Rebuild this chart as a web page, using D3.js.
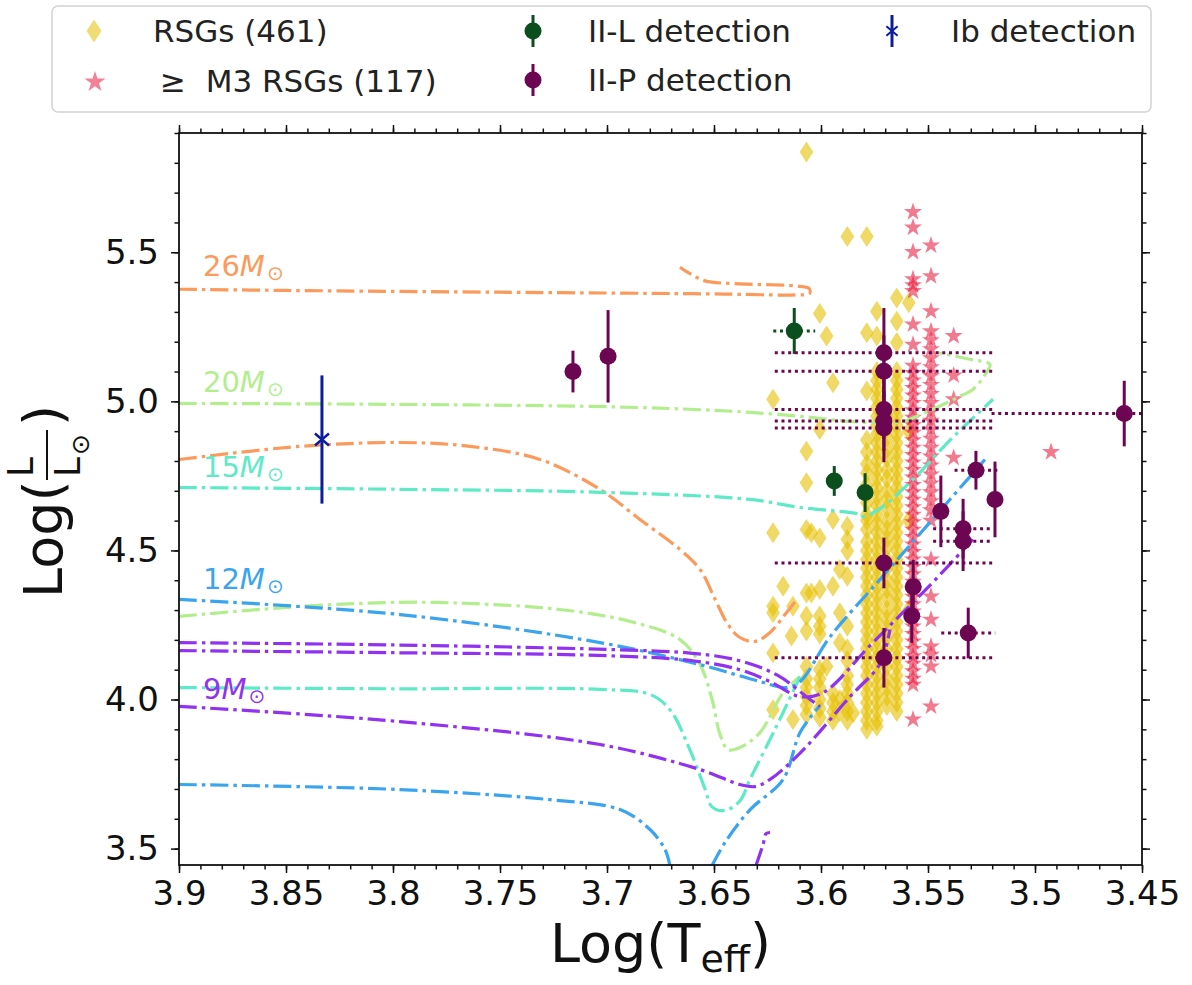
<!DOCTYPE html>
<html>
<head>
<meta charset="utf-8">
<script src="https://cdn.jsdelivr.net/npm/d3@7"></script>
<style>
  body { margin: 0; background: #fff; }
  svg text { font-family: "DejaVu Sans", sans-serif; }
</style>
</head>
<body>
<svg id="hrd"></svg>
<script>
// ticks
const xTicks = [3.9, 3.85, 3.8, 3.75, 3.7, 3.65, 3.6, 3.55, 3.5, 3.45];
const xTickLabels = ["3.9", "3.85", "3.8", "3.75", "3.7", "3.65", "3.6", "3.55", "3.5", "3.45"];
const yTicks = [3.5, 4.0, 4.5, 5.0, 5.5];
const yTickLabels = ["3.5", "4.0", "4.5", "5.0", "5.5"];

// RSGs, grouped by log Teff column
const rsgColT = [3.6224, 3.6177, 3.6138, 3.6131, 3.6068, 3.6045, 3.6006, 3.5974, 3.5944, 3.5912,
                 3.5877, 3.5850, 3.5786, 3.5739, 3.5692, 3.5646, 3.5590];
const rsgColL = [
  [5.007, 4.559, 4.313, 4.291, 4.156, 3.966],
  [4.380],
  [4.213],
  [4.313, 3.933],
  [5.836, 4.833, 4.727, 4.570, 4.357, 4.280, 4.230, 4.111, 4.070, 4.040, 4.010, 3.980, 3.950],
  [4.559, 4.357],
  [5.295, 4.906, 4.542, 4.369, 4.280, 4.246, 4.220, 4.101, 4.070, 4.040, 4.000, 3.970, 3.940],
  [5.219, 4.111],
  [5.062, 4.604, 4.380, 4.020, 3.990, 3.960, 3.930],
  [4.436, 4.291, 4.190, 4.000, 3.960],
  [5.553, 4.581, 4.537, 4.498, 4.413, 4.246, 4.170, 4.130, 4.080, 4.050, 4.020, 3.990, 3.960, 3.930],
  [3.955],
  [5.553, 5.230, 5.035, 4.870, 4.830, 4.790, 4.760, 4.720, 4.690, 4.660, 4.620, 4.600, 4.570, 4.530,
   4.500, 4.470, 4.440, 4.410, 4.380, 4.350, 4.320, 4.290, 4.260, 4.230, 4.200, 4.170, 4.140, 4.110,
   4.080, 4.050, 4.020, 3.990, 3.960, 3.930, 3.900],
  [5.302, 5.219, 5.100, 5.070, 5.040, 5.010, 4.980, 4.950, 4.920, 4.890, 4.860, 4.830, 4.800, 4.770,
   4.740, 4.710, 4.680, 4.650, 4.620, 4.590, 4.560, 4.530, 4.500, 4.470, 4.440, 4.410, 4.380, 4.350,
   4.320, 4.290, 4.260, 4.230, 4.200, 4.170, 4.140, 4.110, 4.080, 4.050, 4.020, 3.990, 3.960, 3.930, 3.910],
  [4.950, 4.910, 4.880, 4.840, 4.810, 4.770, 4.740, 4.700, 4.670, 4.640, 4.600, 4.570, 4.540, 4.510,
   4.470, 4.440, 4.400, 4.370, 4.340, 4.300, 4.270, 4.240, 4.210, 4.170, 4.140, 4.110, 4.070, 4.040,
   4.010, 3.980],
  [5.347, 5.269, 5.197, 5.100, 5.070, 5.040, 5.010, 4.980, 4.950, 4.920, 4.890, 4.860, 4.830, 4.800,
   4.770, 4.740, 4.710, 4.680, 4.650, 4.620, 4.590, 4.560, 4.530, 4.500, 4.470, 4.440, 4.410, 4.380,
   4.350, 4.320, 4.290, 4.260, 4.230, 4.200, 4.170, 4.140, 4.110, 4.080, 4.050, 4.020, 3.990, 3.960],
  [5.331, 4.900, 4.600, 4.300]
];

// >= M3 RSGs
const m3ColT = [3.5570, 3.5486, 3.5380, 3.4925];
const m3ColL = [
  [5.635, 5.583, 5.501, 5.410, 5.390, 5.370, 5.258, 5.190, 5.120, 5.095, 5.070, 5.045, 5.020, 4.995,
   4.970, 4.945, 4.920, 4.895, 4.870, 4.845, 4.820, 4.795, 4.770, 4.745, 4.720, 4.695, 4.670, 4.645,
   4.620, 4.595, 4.570, 4.545, 4.520, 4.495, 4.470, 4.445, 4.420, 4.395, 4.370, 4.345, 4.320, 4.295,
   4.270, 4.245, 4.220, 4.195, 4.170, 4.145, 4.120, 4.095, 4.070, 4.050, 3.933],
  [5.523, 5.420, 5.302, 5.235, 5.205, 5.175, 5.145, 5.115, 5.085, 5.055, 5.025, 4.995, 4.965, 4.935,
   4.905, 4.875, 4.845, 4.815, 4.785, 4.755, 4.725, 4.695, 4.665, 4.635, 4.600, 4.470, 4.346, 4.268,
   4.178, 4.150, 4.111, 3.977],
  [5.219, 5.087, 5.007, 4.811],
  [4.830]
];

// detections: [logT, logL, err logT, err logL]
const iiL = [
  [3.6125, 5.236, 0.0098, 0.077],
  [3.5938, 4.733, 0, 0.050],
  [3.5794, 4.694, 0, 0.065]
];
const iiP = [
  [3.7159, 5.100, 0, 0.070],
  [3.6995, 5.151, 0, 0.155],
  [3.5706, 5.163, 0.051, 0.150],
  [3.5706, 5.101, 0.051, 0.120],
  [3.5706, 4.973, 0.051, 0.100],
  [3.5706, 4.934, 0.051, 0.100],
  [3.5706, 4.911, 0.051, 0.115],
  [3.4583, 4.959, 0.062, 0.110],
  [3.5276, 4.769, 0.010, 0.065],
  [3.5187, 4.671, 0, 0.127],
  [3.5440, 4.631, 0, 0.120],
  [3.5336, 4.573, 0.014, 0.100],
  [3.5336, 4.531, 0.014, 0.100],
  [3.5706, 4.458, 0.051, 0.085],
  [3.5569, 4.378, 0, 0.090],
  [3.5576, 4.280, 0, 0.090],
  [3.5312, 4.223, 0.0126, 0.085],
  [3.5706, 4.140, 0.051, 0.100]
];
const ib = [[3.8332, 4.872, 0, 0.215]];

// evolutionary tracks [logT, logL]
const track26a = [[3.9, 4.805], [3.8435, 4.849], [3.7967, 4.862], [3.764, 4.849], [3.7313, 4.805],
  [3.7033, 4.705], [3.6846, 4.604], [3.6659, 4.503], [3.6565, 4.436], [3.6495, 4.336], [3.6435, 4.252],
  [3.6379, 4.208], [3.6308, 4.195], [3.6238, 4.225], [3.6168, 4.285], [3.6112, 4.336]];
const track26b = [[3.9, 5.376], [3.85, 5.372], [3.75, 5.366], [3.66, 5.361], [3.6379, 5.359],
  [3.612, 5.357], [3.6053, 5.362], [3.6055, 5.378], [3.612, 5.387], [3.6379, 5.394], [3.6542, 5.404],
  [3.6612, 5.428], [3.6659, 5.450]];
const track20a = [[3.9, 4.279], [3.8435, 4.312], [3.7967, 4.326], [3.764, 4.322], [3.722, 4.302],
  [3.6893, 4.262], [3.6659, 4.201], [3.6565, 4.117], [3.6509, 4.0], [3.6472, 3.883], [3.6435, 3.832],
  [3.6379, 3.839], [3.6285, 3.889], [3.6177, 4.023], [3.6098, 4.077]];
const track20b = [[3.9, 4.993], [3.8, 4.990], [3.7, 4.982], [3.65, 4.970], [3.6332, 4.963], [3.61, 4.950],
  [3.5864, 4.933], [3.5631, 4.930], [3.5551, 4.950], [3.535, 5.017], [3.529, 5.040], [3.5224, 5.100],
  [3.521, 5.124], [3.5304, 5.141], [3.5458, 5.164]];
const track15a = [[3.9, 4.040], [3.8, 4.036], [3.7033, 4.034], [3.6799, 4.017], [3.6706, 3.966],
  [3.6612, 3.830], [3.6542, 3.700], [3.6509, 3.640], [3.6449, 3.628], [3.6379, 3.660], [3.6332, 3.732],
  [3.6215, 3.900], [3.6098, 4.077]];
const track15b = [[3.9, 4.711], [3.7967, 4.705], [3.7033, 4.695], [3.6332, 4.671], [3.6098, 4.644],
  [3.5818, 4.621], [3.5804, 4.614], [3.5724, 4.640], [3.5570, 4.738], [3.5397, 4.870], [3.5196, 5.007]];
const track12a = [[3.9, 4.336], [3.7967, 4.285], [3.7033, 4.191], [3.6565, 4.117], [3.6285, 4.060],
  [3.6168, 4.040], [3.6098, 4.060], [3.5957, 4.211], [3.5724, 4.403], [3.5491, 4.594], [3.5234, 4.805]];
const track12b = [[3.9, 3.715], [3.7967, 3.698], [3.7266, 3.664], [3.6939, 3.631], [3.6799, 3.564],
  [3.6729, 3.497], [3.6706, 3.443]];
const track12c = [[3.6509, 3.443], [3.6449, 3.520], [3.6332, 3.630], [3.6177, 3.732], [3.6098, 3.889],
  [3.6005, 3.980]];
const track9a = [[3.9, 4.191], [3.8, 4.183], [3.7, 4.168], [3.66, 4.155], [3.6379, 4.130], [3.62, 4.080],
  [3.6051, 4.000], [3.6005, 3.977]];
const track9b = [[3.9, 4.164], [3.8, 4.157], [3.7, 4.147], [3.66, 4.130], [3.6379, 4.100], [3.6238, 4.060],
  [3.6098, 4.010], [3.599, 4.023], [3.5771, 4.181], [3.5631, 4.282], [3.5491, 4.383], [3.529, 4.537]];
const track9c = [[3.9, 3.977], [3.7967, 3.926], [3.7033, 3.849], [3.6565, 3.765], [3.6379, 3.715],
  [3.6308, 3.708], [3.6238, 3.732], [3.6098, 3.820], [3.5864, 4.010], [3.5724, 4.120], [3.5678, 4.235]];
const track9d = [[3.6304, 3.443], [3.6271, 3.513], [3.6257, 3.550], [3.6238, 3.554]];

const trackColors = {m26: "#fc9a5c", m20: "#b2ee8e", m15: "#5eeac6", m12: "#3ba4ef", m9: "#9132f0"};
const trackLabels = ["26", "20", "15", "12", "9"];
const trackLabelT = 3.8888;
const trackLabelL = [5.419, 5.030, 4.745, 4.369, 4.003];

// ---------------------------------------------------------------
const W = 1192, H = 985;
const margin = {top: 133, right: 50, bottom: 120, left: 179};
const width = W - margin.left - margin.right,
      height = H - margin.top - margin.bottom;

const svg = d3.select("#hrd")
    .attr("width", W)
    .attr("height", H);

svg.append("defs").append("clipPath")
    .attr("id", "plotclip")
  .append("rect")
    .attr("width", width)
    .attr("height", height);

const g = svg.append("g")
    .attr("transform", `translate(${margin.left},${margin.top})`);

const x = d3.scaleLinear().domain([3.9, 3.45]).range([0, width]);
const y = d3.scaleLinear().domain([3.445, 5.9]).range([height, 0]);

const plot = g.append("g").attr("clip-path", "url(#plotclip)");

// marker shapes
const diamondPath = "M0,-10L6.5,0L0,10L-6.5,0Z";
function starPath(R) {
  const pts = [];
  for (let i = 0; i < 10; i++) {
    const a = -Math.PI / 2 + i * Math.PI / 5, r = i % 2 ? R * 0.382 : R;
    pts.push([r * Math.cos(a), r * Math.sin(a)]);
  }
  return "M" + pts.join("L") + "Z";
}
const crossPath = "M-7,-6L7,6M-7,6L7,-6";

const rsgColor = "#e6c000", m3Color = "#e8193e";
const iiLColor = "#0b4f1f", iiPColor = "#6c0552", ibColor = "#0c1c9e";

// RSG diamonds
const rsg = [];
rsgColT.forEach((t, i) => rsgColL[i].forEach(l => rsg.push([t, l])));
plot.selectAll(".rsg")
  .data(rsg)
  .join("path")
    .attr("class", "rsg")
    .attr("d", diamondPath)
    .attr("transform", d => `translate(${x(d[0])},${y(d[1])})`)
    .attr("fill", rsgColor)
    .attr("fill-opacity", 0.6)
    .attr("stroke", rsgColor)
    .attr("stroke-opacity", 0.3)
    .attr("stroke-width", 1);

// >= M3 stars
const m3 = [];
m3ColT.forEach((t, i) => m3ColL[i].forEach(l => m3.push([t, l])));
plot.selectAll(".m3")
  .data(m3)
  .join("path")
    .attr("class", "m3")
    .attr("d", starPath(9.5))
    .attr("transform", d => `translate(${x(d[0])},${y(d[1])})`)
    .attr("fill", m3Color)
    .attr("fill-opacity", 0.58);

// tracks
const line = d3.line()
    .x(d => x(d[0]))
    .y(d => y(d[1]))
    .curve(d3.curveCatmullRom.alpha(0.5));

const trackSet = [
  [track26a, trackColors.m26], [track26b, trackColors.m26],
  [track20a, trackColors.m20], [track20b, trackColors.m20],
  [track15a, trackColors.m15], [track15b, trackColors.m15],
  [track12a, trackColors.m12], [track12b, trackColors.m12], [track12c, trackColors.m12],
  [track9a, trackColors.m9], [track9b, trackColors.m9], [track9c, trackColors.m9], [track9d, trackColors.m9]
];
plot.selectAll(".track")
  .data(trackSet)
  .join("path")
    .attr("class", "track")
    .attr("d", d => line(d[0]))
    .attr("fill", "none")
    .attr("stroke", d => d[1])
    .attr("stroke-width", 3.2)
    .attr("stroke-dasharray", "18,5,3.5,5");

// track labels
const labelColors = [trackColors.m26, trackColors.m20, trackColors.m15, trackColors.m12, trackColors.m9];
const labels = g.selectAll(".tlabel")
  .data(trackLabels)
  .join("text")
    .attr("class", "tlabel")
    .attr("x", x(trackLabelT))
    .attr("y", (d, i) => y(trackLabelL[i]))
    .attr("font-size", 29)
    .attr("fill", (d, i) => labelColors[i]);
labels.append("tspan").text(d => d);
labels.append("tspan").attr("font-style", "italic").text("M");
labels.append("tspan").attr("font-size", 20).attr("dx", 2).attr("dy", 4).text("\u2299");

// detections with error bars
function drawErr(data, color) {
  const grp = plot.append("g");
  grp.selectAll(".xerr")
    .data(data.filter(d => d[2] > 0))
    .join("line")
      .attr("x1", d => x(d[0] + d[2]))
      .attr("x2", d => x(d[0] - d[2]))
      .attr("y1", d => y(d[1]))
      .attr("y2", d => y(d[1]))
      .attr("stroke", color)
      .attr("stroke-width", 3)
      .attr("stroke-dasharray", "3,3.7");
  grp.selectAll(".yerr")
    .data(data)
    .join("line")
      .attr("x1", d => x(d[0]))
      .attr("x2", d => x(d[0]))
      .attr("y1", d => y(d[1] - d[3]))
      .attr("y2", d => y(d[1] + d[3]))
      .attr("stroke", color)
      .attr("stroke-width", 3);
  return grp;
}

drawErr(iiL, iiLColor)
  .selectAll("circle")
  .data(iiL)
  .join("circle")
    .attr("cx", d => x(d[0]))
    .attr("cy", d => y(d[1]))
    .attr("r", 8.5)
    .attr("fill", iiLColor);

drawErr(iiP, iiPColor)
  .selectAll("circle")
  .data(iiP)
  .join("circle")
    .attr("cx", d => x(d[0]))
    .attr("cy", d => y(d[1]))
    .attr("r", 8.5)
    .attr("fill", iiPColor);

drawErr(ib, ibColor)
  .selectAll(".ibx")
  .data(ib)
  .join("path")
    .attr("class", "ibx")
    .attr("d", crossPath)
    .attr("transform", d => `translate(${x(d[0])},${y(d[1])})`)
    .attr("fill", "none")
    .attr("stroke", ibColor)
    .attr("stroke-width", 2.5);

// axes: majors + minors on all four sides
const xMinor = d3.range(0, 46).map(i => 3.45 + i * 0.01);
const yMinor = d3.range(0, 25).map(i => 3.5 + i * 0.1);

function styleAxis(ax) {
  ax.select(".domain").remove();
  ax.selectAll(".tick line").attr("stroke", "#111").attr("stroke-width", 1.5);
  ax.selectAll(".tick text").attr("fill", "#111").attr("font-size", 34);
}

g.append("g")
    .attr("transform", `translate(0,${height})`)
    .call(d3.axisBottom(x).tickValues(xMinor).tickSize(4.5).tickFormat(""))
    .call(styleAxis);
g.append("g")
    .attr("transform", `translate(0,${height})`)
    .call(d3.axisBottom(x).tickValues(xTicks).tickSize(8).tickPadding(8)
      .tickFormat((d, i) => xTickLabels[i]))
    .call(styleAxis);
g.append("g")
    .call(d3.axisTop(x).tickValues(xMinor).tickSize(4.5).tickFormat(""))
    .call(styleAxis);
g.append("g")
    .call(d3.axisTop(x).tickValues(xTicks).tickSize(8).tickFormat(""))
    .call(styleAxis);

g.append("g")
    .call(d3.axisLeft(y).tickValues(yMinor).tickSize(4.5).tickFormat(""))
    .call(styleAxis);
g.append("g")
    .call(d3.axisLeft(y).tickValues(yTicks).tickSize(8).tickPadding(12)
      .tickFormat((d, i) => yTickLabels[i]))
    .call(styleAxis);
g.append("g")
    .attr("transform", `translate(${width},0)`)
    .call(d3.axisRight(y).tickValues(yMinor).tickSize(4.5).tickFormat(""))
    .call(styleAxis);
g.append("g")
    .attr("transform", `translate(${width},0)`)
    .call(d3.axisRight(y).tickValues(yTicks).tickSize(8).tickFormat(""))
    .call(styleAxis);

g.append("rect")
    .attr("width", width)
    .attr("height", height)
    .attr("fill", "none")
    .attr("stroke", "#111")
    .attr("stroke-width", 1.8);

// axis titles
const xt = svg.append("text")
    .attr("x", margin.left + width / 2)
    .attr("y", 962)
    .attr("text-anchor", "middle")
    .attr("font-size", 54)
    .attr("fill", "#111");
xt.append("tspan").text("Log(T");
xt.append("tspan").attr("font-size", 38).attr("dy", 10).text("eff");
xt.append("tspan").attr("dy", -10).text(")");

const yt = svg.append("g")
    .attr("transform", "translate(62,598) rotate(-90)")
    .attr("fill", "#111");
yt.append("text").attr("x", 0).attr("y", 0).attr("font-size", 54).text("Log(");
yt.append("text").attr("x", 121).attr("y", -29).attr("font-size", 36).text("L");
yt.append("line").attr("x1", 118).attr("x2", 168).attr("y1", -15).attr("y2", -15)
    .attr("stroke", "#111").attr("stroke-width", 2);
yt.append("text").attr("x", 121).attr("y", 18).attr("font-size", 36).text("L");
yt.append("text").attr("x", 143).attr("y", 27).attr("font-size", 25).text("\u2299");
yt.append("text").attr("x", 172).attr("y", 0).attr("font-size", 54).text(")");

// legend
const leg = svg.append("g");
leg.append("rect")
    .attr("x", 52).attr("y", 6)
    .attr("width", 1099).attr("height", 106)
    .attr("rx", 6)
    .attr("fill", "#fff")
    .attr("stroke", "#d2d2d2")
    .attr("stroke-width", 1.5);

const legFont = 31;
leg.append("path").attr("d", diamondPath)
    .attr("transform", "translate(94,31) scale(1.15)")
    .attr("fill", rsgColor).attr("fill-opacity", 0.55);
leg.append("text").attr("x", 153).attr("y", 42).attr("font-size", legFont).attr("fill", "#222")
    .text("RSGs (461)");

leg.append("path").attr("d", starPath(11))
    .attr("transform", "translate(95,82)")
    .attr("fill", m3Color).attr("fill-opacity", 0.55);
leg.append("text").attr("x", 160).attr("y", 92).attr("font-size", legFont).attr("fill", "#222")
    .attr("xml:space", "preserve")
    .text("\u2265  M3 RSGs (117)");

[[31, iiLColor, "II-L detection"], [80, iiPColor, "II-P detection"]].forEach(r => {
  leg.append("line").attr("x1", 533).attr("x2", 533).attr("y1", r[0] - 16).attr("y2", r[0] + 16)
      .attr("stroke", r[1]).attr("stroke-width", 3);
  leg.append("circle").attr("cx", 533).attr("cy", r[0]).attr("r", 8.5).attr("fill", r[1]);
  leg.append("text").attr("x", 588).attr("y", r[0] + 11).attr("font-size", legFont).attr("fill", "#222")
      .text(r[2]);
});

leg.append("line").attr("x1", 892).attr("x2", 892).attr("y1", 15).attr("y2", 47)
    .attr("stroke", ibColor).attr("stroke-width", 3);
leg.append("path").attr("d", crossPath)
    .attr("transform", "translate(892,31) scale(0.8)")
    .attr("fill", "none").attr("stroke", ibColor).attr("stroke-width", 2.5);
leg.append("text").attr("x", 951).attr("y", 42).attr("font-size", legFont).attr("fill", "#222")
    .text("Ib detection");
</script>
</body>
</html>
